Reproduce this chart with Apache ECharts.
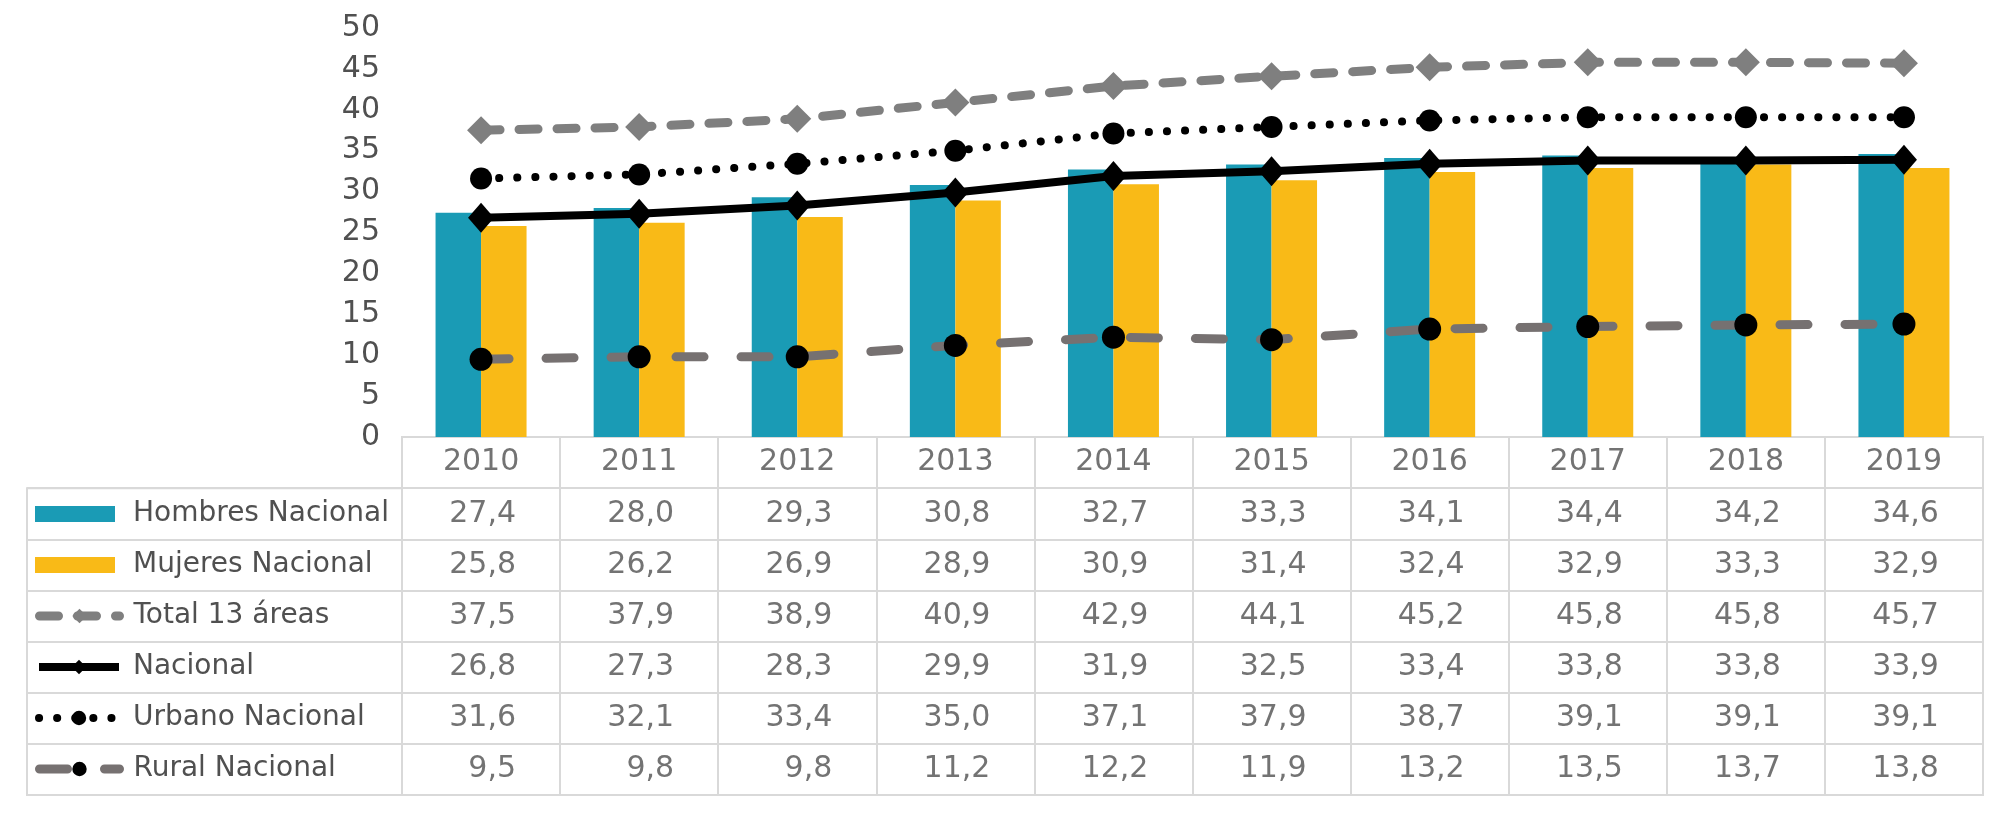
<!DOCTYPE html>
<html>
<head>
<meta charset="utf-8">
<script src="https://cdn.jsdelivr.net/npm/echarts@6/dist/echarts.min.js"></script>
<style>html,body{margin:0;padding:0;background:#fff}#c{width:1998px;height:814px}</style>
</head>
<body>
<div id="c"></div>
<script>
// ---- data ----
const years = ['2010','2011','2012','2013','2014','2015','2016','2017','2018','2019'];
const hombres  = [27.4, 28.0, 29.3, 30.8, 32.7, 33.3, 34.1, 34.4, 34.2, 34.6];
const mujeres  = [25.8, 26.2, 26.9, 28.9, 30.9, 31.4, 32.4, 32.9, 33.3, 32.9];
const total13  = [37.5, 37.9, 38.9, 40.9, 42.9, 44.1, 45.2, 45.8, 45.8, 45.7];
const nacional = [26.8, 27.3, 28.3, 29.9, 31.9, 32.5, 33.4, 33.8, 33.8, 33.9];
const urbano   = [31.6, 32.1, 33.4, 35.0, 37.1, 37.9, 38.7, 39.1, 39.1, 39.1];
const rural    = [9.5, 9.8, 9.8, 11.2, 12.2, 11.9, 13.2, 13.5, 13.7, 13.8];
const rowNames = ['Hombres Nacional','Mujeres Nacional','Total 13 áreas','Nacional','Urbano Nacional','Rural Nacional'];
const rowValues = [hombres, mujeres, total13, nacional, urbano, rural];
const yMin = 0, yMax = 50, yStep = 5;

// ---- layout ----
const W = 1998, H = 814;
const plotLeft = 402, plotRight = 1983, plotTop = 28;
const tableTop = 437, tableBottom = 795, labelLeft = 27;
const rowH = (tableBottom - tableTop) / 7;
const textColor = '#505050';
const borderColor = '#D9D9D9';
const numFont = 'DejaVu Sans';
const fmt = v => v.toFixed(1).replace('.', ',');

// table cells
const cells = [];
years.forEach((y, i) => cells.push({ value: [i, 0], name: y, label: { align: 'center', offset: [0, 0] } }));
rowValues.forEach((arr, r) => arr.forEach((v, i) => cells.push({ value: [i, r + 1], name: fmt(v) })));

const legends = rowNames.map((n, k) => ({
  show: true,
  left: 35,
  top: Math.round(tableTop + rowH * (k + 1) + rowH / 2 - 15),
  padding: 0,
  itemWidth: 80,
  itemHeight: k < 2 ? 16 : 18,
  selectedMode: false,
  data: [k < 2 ? { name: n, icon: 'rect' } : n],
  lineStyle: { width: 'inherit', type: 'inherit', cap: 'inherit' },
  textStyle: { color: textColor, fontSize: 28, fontFamily: numFont, lineHeight: 30,
               padding: [0, 0, 0, k < 2 ? 13 : 9] }
}));

const splitLs = { show: true, interval: 0, lineStyle: { color: borderColor, width: 2 } };

const option = {
  animation: false,
  backgroundColor: '#fff',
  legend: legends,
  grid: [
    { left: plotLeft, right: W - plotRight, top: plotTop, bottom: H - tableTop },
    { left: plotLeft, right: W - plotRight, top: tableTop, bottom: H - tableBottom,
      show: true, borderColor: borderColor, borderWidth: 2 },
    { left: labelLeft, right: W - plotLeft, top: tableTop + rowH, bottom: H - tableBottom,
      show: true, borderColor: borderColor, borderWidth: 2 }
  ],
  xAxis: [
    { type: 'category', gridIndex: 0, data: years, axisLine: { show: false }, axisTick: { show: false }, axisLabel: { show: false } },
    { type: 'category', gridIndex: 1, data: years, axisLine: { show: false }, axisTick: { show: false }, axisLabel: { show: false }, splitLine: splitLs },
    { type: 'category', gridIndex: 2, data: [''], show: false }
  ],
  yAxis: [
    { type: 'value', gridIndex: 0, min: yMin, max: yMax, interval: yStep,
      axisLine: { show: false }, axisTick: { show: false }, splitLine: { show: false },
      axisLabel: { color: textColor, fontSize: 30, fontFamily: numFont, margin: 22 } },
    { type: 'category', gridIndex: 1, inverse: true, data: ['header'].concat(rowNames),
      axisLine: { show: false }, axisTick: { show: false }, axisLabel: { show: false }, splitLine: splitLs },
    { type: 'category', gridIndex: 2, inverse: true, data: rowNames,
      axisLine: { show: false }, axisTick: { show: false }, axisLabel: { show: false }, splitLine: splitLs }
  ],
  series: [
    { name: 'Hombres Nacional', type: 'bar', data: hombres, barWidth: 45.5, barGap: '0%',
      itemStyle: { color: '#1A9BB5' } },
    { name: 'Mujeres Nacional', type: 'bar', data: mujeres, barWidth: 45.5, barGap: '0%',
      itemStyle: { color: '#F9BA17' } },
    { name: 'Total 13 áreas', type: 'line', data: total13, z: 5,
      symbol: 'diamond', symbolSize: 28,
      lineStyle: { color: '#7F7F7F', width: 9, type: [19, 19], cap: 'round' },
      itemStyle: { color: '#7F7F7F' } },
    { name: 'Nacional', type: 'line', data: nacional, z: 6,
      symbol: 'diamond', symbolSize: [26, 30],
      lineStyle: { color: '#000', width: 8 },
      itemStyle: { color: '#000' } },
    { name: 'Urbano Nacional', type: 'line', data: urbano, z: 5,
      symbol: 'circle', symbolSize: 22,
      lineStyle: { color: '#000', width: 8, type: [0.1, 18], cap: 'round' },
      itemStyle: { color: '#000' } },
    { name: 'Rural Nacional', type: 'line', data: rural, z: 5,
      symbol: 'circle', symbolSize: 23,
      lineStyle: { color: '#767171', width: 9, type: [28, 37], cap: 'round' },
      itemStyle: { color: '#000' } },
    { name: 'tabla', type: 'scatter', xAxisIndex: 1, yAxisIndex: 1, data: cells,
      symbolSize: 0, silent: true,
      label: { show: true, position: 'inside', formatter: '{b}', color: textColor,
               fontSize: 30, fontFamily: numFont, align: 'right', offset: [35, 0] } }
  ]
};

const chart = echarts.init(document.getElementById('c'), null, { renderer: 'canvas' });
chart.setOption(option);
</script>
</body>
</html>
